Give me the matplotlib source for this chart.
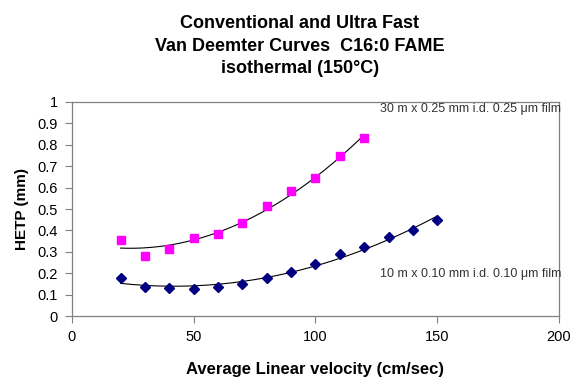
import numpy as np
import matplotlib
matplotlib.use("Agg")
import matplotlib.pyplot as plt

plt.rcParams['font.family'] = ['Liberation Sans', 'DejaVu Sans']

x_conv = [20, 30, 40, 50, 60, 70, 80, 90, 100, 110, 120]
hetp_conv = [0.355, 0.28, 0.315, 0.364, 0.385, 0.433, 0.514, 0.584, 0.643, 0.748, 0.833]
x_fast = [20, 30, 40, 50, 60, 70, 80, 90, 100, 110, 120, 130, 140, 150]
hetp_fast = [0.178, 0.137, 0.132, 0.128, 0.137, 0.151, 0.176, 0.206, 0.244, 0.288, 0.324, 0.368, 0.403, 0.449]
label_conv = "30 m x 0.25 mm i.d. 0.25 \u03bcm film"
label_fast = "10 m x 0.10 mm i.d. 0.10 \u03bcm film"
title = "Conventional and Ultra Fast\nVan Deemter Curves  C16:0 FAME\nisothermal (150\u00b0C)"

fig = plt.figure(figsize=(5.71, 3.79), dpi=100)
ax = fig.add_axes([0.126, 0.166, 0.853, 0.565])

for xs, ys, marker, color, ms in [(x_conv, hetp_conv, 's', '#FF00FF', 6),
                                   (x_fast, hetp_fast, 'D', '#000080', 5.5)]:
    xs = np.array(xs); ys = np.array(ys)
    c = np.polyfit(xs, ys, 2)
    xx = np.linspace(xs.min(), xs.max(), 200)
    ax.plot(xx, np.polyval(c, xx), color='black', lw=0.8, zorder=2)
    ax.plot(xs, ys, linestyle='none', marker=marker, color=color, ms=ms, zorder=3)

ax.set_xlim(0, 200)
ax.set_ylim(0, 1)
ax.set_xticks([0, 50, 100, 150, 200])
ax.set_yticks(np.arange(0, 1.01, 0.1))
ax.set_yticklabels([f"{v:g}" for v in np.round(np.arange(0, 1.01, 0.1), 1)])
ax.tick_params(direction='out', length=5, labelsize=10.5, width=0.8, color='#808080', pad=5)
for s in ax.spines.values():
    s.set_color('#808080')
    s.set_linewidth(0.9)

ax.set_xlabel("Average Linear velocity (cm/sec)", fontsize=12, fontweight='bold', labelpad=13)
ax.set_ylabel("HETP (mm)", fontsize=11, fontweight='bold', labelpad=6)

ax.text(201, 0.967, label_conv, fontsize=9, ha='right', va='center', color='#333333', clip_on=False)
ax.text(201, 0.196, label_fast, fontsize=9, ha='right', va='center', color='#333333', clip_on=False)

fig.text(0.525, 0.96, title, fontsize=13, fontweight='bold', ha='center', va='top', linespacing=1.42)

fig.savefig("out.png", dpi=100)
